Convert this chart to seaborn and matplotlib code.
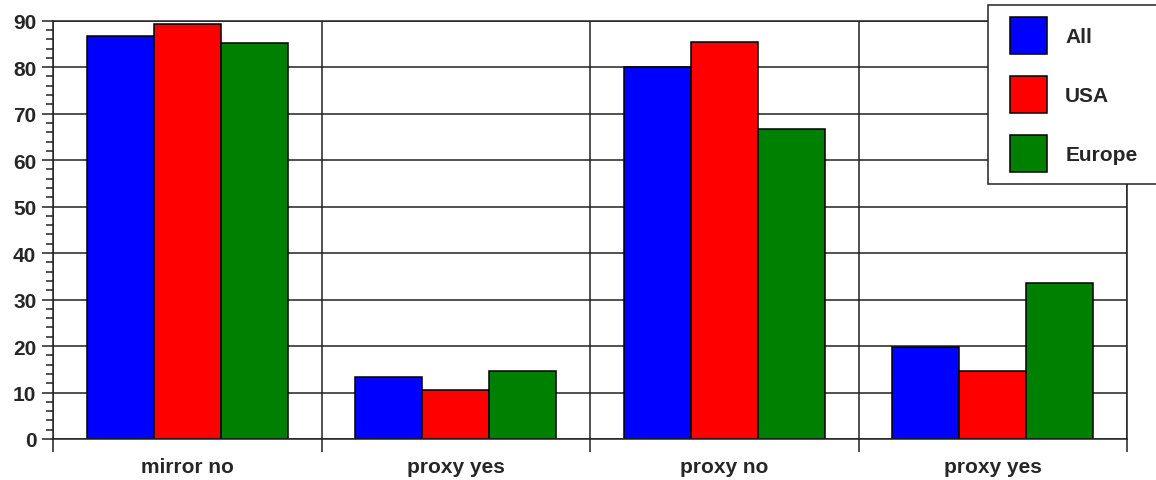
import numpy as np
import pandas as pd
import matplotlib
matplotlib.use('Agg')
import matplotlib.pyplot as plt
from matplotlib.patches import Patch, Rectangle
from matplotlib.ticker import MultipleLocator
import seaborn as sns

# values
categories = ['mirror no', 'proxy yes', 'proxy no', 'proxy yes']
regions = ['All', 'USA', 'Europe']
all_vals = [86.8, 13.4, 80.0, 19.8]
usa_vals = [89.2, 10.6, 85.4, 14.7]
europe_vals = [85.3, 14.6, 66.7, 33.6]
colors = ['#0000ff', '#ff0000', '#008000']

W, H = 1156, 481


def build_frame():
    rows = []
    for region, vals in zip(regions, [all_vals, usa_vals, europe_vals]):
        for i, v in enumerate(vals):
            # group ids are unique, labels are set afterwards (two "proxy yes")
            rows.append({'group': f'g{i}', 'region': region, 'value': v})
    return pd.DataFrame(rows)


def plot(df):
    sns.set_theme(style='white')
    plt.rcParams['font.family'] = ['Liberation Sans', 'DejaVu Sans']
    plt.rcParams['font.weight'] = 'bold'

    fig = plt.figure(figsize=(W / 100, H / 100), dpi=100)
    ax = fig.add_axes([53 / W, (H - 440) / H, (1127 - 53) / W, (440 - 21.7) / H])

    sns.barplot(
        data=df, x='group', y='value', hue='region',
        order=[f'g{i}' for i in range(len(categories))],
        hue_order=regions, palette=colors, saturation=1, width=0.75,
        edgecolor='black', linewidth=1.1, legend=False, ax=ax
    )

    ax.set_xlim(-0.5, len(categories) - 0.5)
    ax.set_ylim(0, 90)
    ax.set_xlabel('')
    ax.set_ylabel('')

    # boundaries carry the tick marks, centres carry the labels
    bounds = np.arange(-0.5, len(categories), 1.0)
    ax.set_xticks(bounds)
    ax.set_xticklabels([])
    ax.set_xticks(np.arange(len(categories)), minor=True)
    ax.set_xticklabels(categories, minor=True, fontsize=15, fontweight='bold')
    ax.tick_params(axis='x', which='major', direction='out', length=9, width=1.1,
                   color='#222222', bottom=True)
    ax.tick_params(axis='x', which='minor', length=0, pad=13)

    ax.yaxis.set_major_locator(MultipleLocator(10))
    ax.yaxis.set_minor_locator(MultipleLocator(2))
    ax.tick_params(axis='y', which='major', direction='out', length=8, width=1.1,
                   color='#222222', left=True, labelsize=15, pad=4)
    ax.tick_params(axis='y', which='minor', direction='out', length=5, width=1.1,
                   color='#222222', left=True)
    for lbl in ax.get_yticklabels():
        lbl.set_fontweight('bold')

    ax.set_axisbelow(True)
    ax.grid(True, which='major', color='#222222', linewidth=1.1)
    for side in ['left', 'right', 'top', 'bottom']:
        ax.spines[side].set_visible(True)
        ax.spines[side].set_color('#222222')
        ax.spines[side].set_linewidth(1.1)

    # legend box, partly cut off at the right edge like the original
    frame = Rectangle((988 / W, 1 - 185 / H), (1175 - 988) / W, (185 - 6) / H,
                      transform=fig.transFigure, facecolor='white',
                      edgecolor='#222222', linewidth=1.1, zorder=3)
    fig.add_artist(frame)
    handles = [Patch(facecolor=c, edgecolor='black', linewidth=1.1) for c in colors]
    leg = fig.legend(
        handles, regions, loc='upper left',
        bbox_to_anchor=(1010 / W, 1 - 18 / H), frameon=False,
        borderpad=0, borderaxespad=0,
        handlelength=1.78, handleheight=2.35, labelspacing=1.07,
        handletextpad=0.87, prop={'size': 15, 'weight': 'bold'}
    )
    leg.set_zorder(4)

    fig.savefig('out.png', dpi=100)


if __name__ == '__main__':
    plot(build_frame())
